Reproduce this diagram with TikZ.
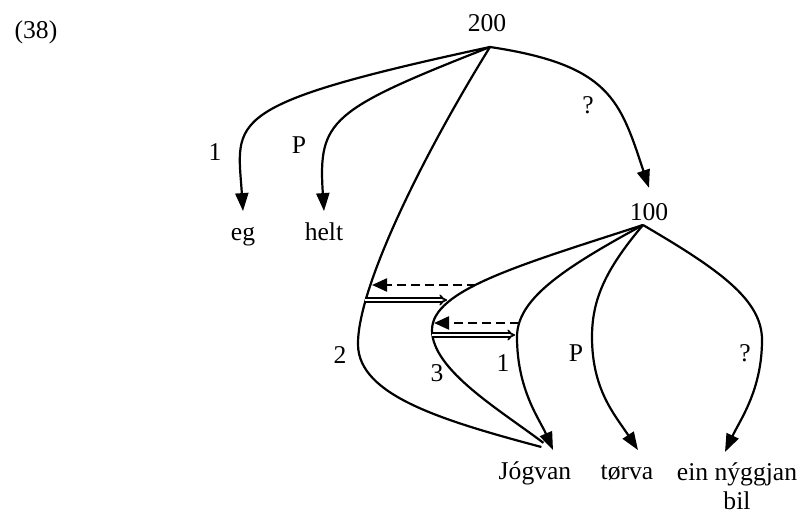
\documentclass[tikz,border=0pt]{standalone}
\usepackage{fontspec}
\setmainfont{Liberation Serif}
\usetikzlibrary{arrows.meta,positioning}

\begin{document}
\begin{tikzpicture}[
    x=0.5pt, y=-0.5pt,
    every node/.style={font=\fontsize{12.8}{14.6}\selectfont, inner sep=0pt},
    leaf/.style={anchor=base, text height=14.75pt, text depth=4pt},
    link/.style={line width=1.1pt},
    arrow/.style={link, -{Triangle[length=9pt,width=6.5pt]}},
    dashback/.style={line width=1.1pt, dash pattern=on 4.5pt off 2.5pt, -{Triangle[length=7.5pt,width=6.5pt]}},
    dblfwd/.style={line width=0.85pt, double, double distance=0.9pt, -{Implies}}
]
    \useasboundingbox (0,0) rectangle (803,512);

    \node (ex) at (36,32) {(38)};
    \node (n200) at (487,23) {200};
    \node[outer ysep=7.75pt] (n100) at (649,212) {100};
    \coordinate (r200) at (490,47);
    \coordinate (r100) at (643,225);

    \node[leaf] (eg) at (243,241) {eg};
    \node[leaf] (helt) at (324,241) {helt};
    \node[leaf] (jogvan) at (535,480) {Jógvan};
    \node[leaf] (torva) at (627,480) {tørva};
    \node[anchor=north, align=center] (bil) at (737,462) {ein nýggjan\\bil};

    \draw[arrow] (r200) .. controls (220,105) and (237,120) .. (eg.north);
    \draw[arrow] (r200) .. controls (330,110) and (318,120) .. (helt.north);
    \draw[arrow] (r200) .. controls (610,65) and (620,100) .. (n100.north);
    \draw[link, shorten >=6pt] (r200) .. controls (420,160) and (357,290) .. (358,345)
        .. controls (359,395) and (440,420) .. ([xshift=9pt]jogvan.north);

    \draw[link, shorten >=6pt] (r100) .. controls (520,265) and (432,290) .. (432,330)
        .. controls (432,370) and (500,410) .. ([xshift=9pt]jogvan.north);
    \draw[arrow] (r100) .. controls (560,270) and (517,300) .. (517,337)
        .. controls (517,390) and (540,420) .. ([xshift=9pt]jogvan.north);
    \draw[arrow] (r100) .. controls (605,270) and (592,300) .. (592,337)
        .. controls (592,390) and (615,415) .. ([xshift=5.5pt]torva.north);
    \draw[arrow] (r100) .. controls (720,270) and (762,300) .. (762,340)
        .. controls (762,390) and (740,420) .. ([xshift=-6pt,yshift=5pt]bil.north);

    \node (l1) at (215,152) {1};
    \node (lp) at (299,145) {P};
    \node (lq) at (588,105) {?};
    \node (l2) at (340,355) {2};
    \node (l3) at (437,373) {3};
    \node (l1b) at (503,363) {1};
    \node (lpb) at (576,353) {P};
    \node (lqb) at (745,353) {?};

    \coordinate (on2a) at (372,285);
    \coordinate (on3a) at (476,285);
    \coordinate (on2b) at (365,300);
    \coordinate (on3b) at (447,300);
    \coordinate (on3c) at (434,323);
    \coordinate (on1c) at (519,323);
    \coordinate (on3d) at (432,335);
    \coordinate (on1d) at (515,335);

    \draw[dashback] (on3a) -- (on2a);
    \draw[dblfwd] (on2b) -- (on3b);
    \draw[dashback] (on1c) -- (on3c);
    \draw[dblfwd] (on3d) -- (on1d);
\end{tikzpicture}
\end{document}
